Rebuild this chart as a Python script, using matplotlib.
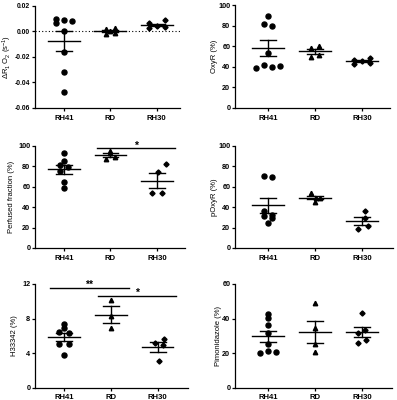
import numpy as np
import matplotlib
matplotlib.use("Agg")
import matplotlib.pyplot as plt

plt.rcParams['font.family'] = ['Liberation Sans', 'DejaVu Sans']
plt.rcParams['axes.unicode_minus'] = False
plt.rcParams['mathtext.fontset'] = 'custom'
plt.rcParams['mathtext.rm'] = 'Liberation Sans'
plt.rcParams['mathtext.it'] = 'Liberation Sans:italic'
plt.rcParams['mathtext.bf'] = 'Liberation Sans:bold'

groups = ["RH41", "RD", "RH30"]

# Panel 1: delta R1 O2
dr1_rh41 = [0.0096, 0.0063, 0.0091, 0.0081, 0.0, -0.0159, -0.0315, -0.0477]
dr1_rd = [0.0015, -0.002, 0.0022, -0.0012, 0.0]
dr1_rh30 = [0.0023, 0.0063, 0.0044, 0.0031, 0.0086]

# Panel 2: OxyR
oxy_rh41 = [89, 82, 80, 53, 41.5, 39, 40, 40.5]
oxy_rd = [58, 60.2, 49.8, 51.5]
oxy_rh30 = [47, 49, 42.5, 44, 46]

# Panel 3: Perfused fraction
perf_rh41 = [92.5, 85.4, 81.2, 79.5, 75.3, 64.9, 59.1]
perf_rd = [94.5, 86.7, 88.7, 92.6]
perf_rh30 = [81.8, 74, 53.6, 53.6]

# Panel 4: pOxyR
poxy_rh41 = [70.8, 69.5, 35.7, 32.1, 31.2, 29.2, 24.4]
poxy_rd = [53.5, 45.3, 49.2, 48.5]
poxy_rh30 = [35.7, 29.2, 21.8, 18.8]

# Panel 5: H33342
h_rh41 = [7.4, 6.9, 6.4, 6.3, 5.1, 5.0, 3.8]
h_rd = [10.2, 8.3, 6.9]
h_rh30 = [5.6, 5.2, 4.9, 3.1]

# Panel 6: Pimonidazole
pimo_rh41 = [42.5, 40.2, 36.3, 31.9, 25.3, 19.9, 21.2, 20.8]
pimo_rd = [49.2, 34.3, 25.1, 20.5]
pimo_rh30 = [43, 31.9, 33.4, 27.6, 25.7]

# ---- layout / style (not data) ----
jitter = {
    "dr1": [[-0.17, -0.17, 0, 0.17, 0, 0, 0, 0], [-0.1, -0.1, 0.1, 0.1, 0], [-0.17, -0.17, 0, 0.17, 0.17]],
    "oxy": [[0, -0.08, 0.08, 0, -0.08, -0.25, 0.08, 0.25], [-0.09, 0.09, -0.09, 0.09], [-0.17, 0.17, -0.17, 0.17, 0]],
    "perf": [[0, 0, -0.08, 0.08, -0.08, 0, 0], [0, -0.1, 0.1, 0], [0.2, 0.02, -0.1, 0.1]],
    "poxy": [[-0.09, 0.08, -0.09, 0.08, -0.09, 0.08, 0], [-0.08, 0, 0.1, 0.02], [0.05, 0.05, 0.12, -0.1]],
    "h": [[0, 0, -0.1, 0.1, -0.1, 0.1, 0], [0, 0, 0], [0.14, -0.05, 0.12, 0.03]],
    "pimo": [[0, 0, 0, 0, 0, -0.17, 0, 0.17], [0, 0, 0, 0], [0, -0.1, 0.06, 0.07, -0.1]],
}
markers = ['o', '^', 'D']
msizes = [3.6, 3.2, 2.6]

W, H = 397, 400
fig = plt.figure(figsize=(W / 100, H / 100), dpi=100)

def ax_at(l, t, r, b):
    return fig.add_axes([l / W, 1 - b / H, (r - l) / W, (b - t) / H])

panels = [
    dict(key="dr1", data=[dr1_rh41, dr1_rd, dr1_rh30], box=(35, 5.7, 180, 108),
         ylim=(-0.06, 0.02), yticks=[-0.06, -0.04, -0.02, 0.0, 0.02], fmt="{:.2f}",
         ylabel=r"$\Delta$R$_1$ O$_2$ (s$^{-1}$)", xlim=(-0.62, 2.5), labx=14),
    dict(key="oxy", data=[oxy_rh41, oxy_rd, oxy_rh30], box=(235, 5.0, 390, 108),
         ylim=(0, 100), yticks=[0, 20, 40, 60, 80, 100], fmt="{:.0f}",
         ylabel="OxyR (%)", xlim=(-0.70, 2.6), labx=218),
    dict(key="perf", data=[perf_rh41, perf_rd, perf_rh30], box=(35, 145.7, 185, 248),
         ylim=(0, 100), yticks=[0, 20, 40, 60, 80, 100], fmt="{:.0f}",
         ylabel="Perfused fraction (%)", xlim=(-0.62, 2.6), labx=15),
    dict(key="poxy", data=[poxy_rh41, poxy_rd, poxy_rh30], box=(235, 145.7, 393, 248),
         ylim=(0, 100), yticks=[0, 20, 40, 60, 80, 100], fmt="{:.0f}",
         ylabel="pOxyR (%)", xlim=(-0.70, 2.65), labx=218),
    dict(key="h", data=[h_rh41, h_rd, h_rh30], box=(35, 284, 188, 387.7),
         ylim=(0, 12), yticks=[0, 4, 8, 12], fmt="{:.0f}",
         ylabel="H33342 (%)", xlim=(-0.62, 2.65), labx=17.5),
    dict(key="pimo", data=[pimo_rh41, pimo_rd, pimo_rh30], box=(235, 284, 392, 387.7),
         ylim=(0, 60), yticks=[0, 20, 40, 60], fmt="{:.0f}",
         ylabel="Pimonidazole (%)", xlim=(-0.70, 2.63), labx=222.5),
]

axes = {}
for p in panels:
    ax = ax_at(*p["box"])
    axes[p["key"]] = ax
    for i, vals in enumerate(p["data"]):
        vals = np.asarray(vals, dtype=float)
        xs = i + np.asarray(jitter[p["key"]][i])
        ax.plot(xs, vals, linestyle='none', marker=markers[i], ms=msizes[i],
                color='black', mec='black', clip_on=False, zorder=3)
        m = vals.mean()
        sem = vals.std(ddof=1) / np.sqrt(len(vals))
        ax.plot([i - 0.34, i + 0.34], [m, m], color='black', lw=1.0, zorder=4)
        ax.plot([i, i], [m - sem, m + sem], color='black', lw=1.0, zorder=4)
        for yv in (m - sem, m + sem):
            ax.plot([i - 0.17, i + 0.17], [yv, yv], color='black', lw=1.0, zorder=4)
    ax.set_xlim(*p["xlim"])
    ax.set_ylim(*p["ylim"])
    ax.set_yticks(p["yticks"])
    ax.set_yticklabels([p["fmt"].format(v) for v in p["yticks"]],
                       fontsize=4.9 if p["key"] == "dr1" else 5.2, fontweight='bold')
    ax.set_xticks(range(3))
    ax.set_xticklabels(groups, fontsize=5.6, fontweight='bold')
    ax.set_ylabel(p["ylabel"], fontsize=5.5)
    l, t, r, b = p["box"]
    ax.yaxis.set_label_coords((p["labx"] - l) / (r - l), 0.5)
    for s in ('top', 'right'):
        ax.spines[s].set_visible(False)
    for s in ('left', 'bottom'):
        ax.spines[s].set_linewidth(0.9)
    ax.tick_params(axis='both', direction='out', length=2.2, width=0.9, pad=1.2)
    ax.tick_params(axis='x', pad=2.5)

# zero reference line in first panel
axes["dr1"].axhline(0, color='black', lw=0.8, ls=(0, (1, 2)), zorder=1)

# significance bars
def sig(ax, x0, x1, y, label):
    ax.plot([x0, x1], [y, y], color='black', lw=1.0, clip_on=False)
    ax.annotate(label, xy=((x0 + x1) / 2, y), xytext=(0, -1.5), textcoords='offset points',
                ha='center', va='bottom', fontsize=7.5, fontweight='bold',
                annotation_clip=False)

sig(axes["perf"], 0.71, 2.39, 97.4, "*")
sig(axes["h"], -0.30, 1.38, 11.58, "**")
sig(axes["h"], 0.73, 2.39, 10.6, "*")

fig.savefig("out.png", dpi=100)
